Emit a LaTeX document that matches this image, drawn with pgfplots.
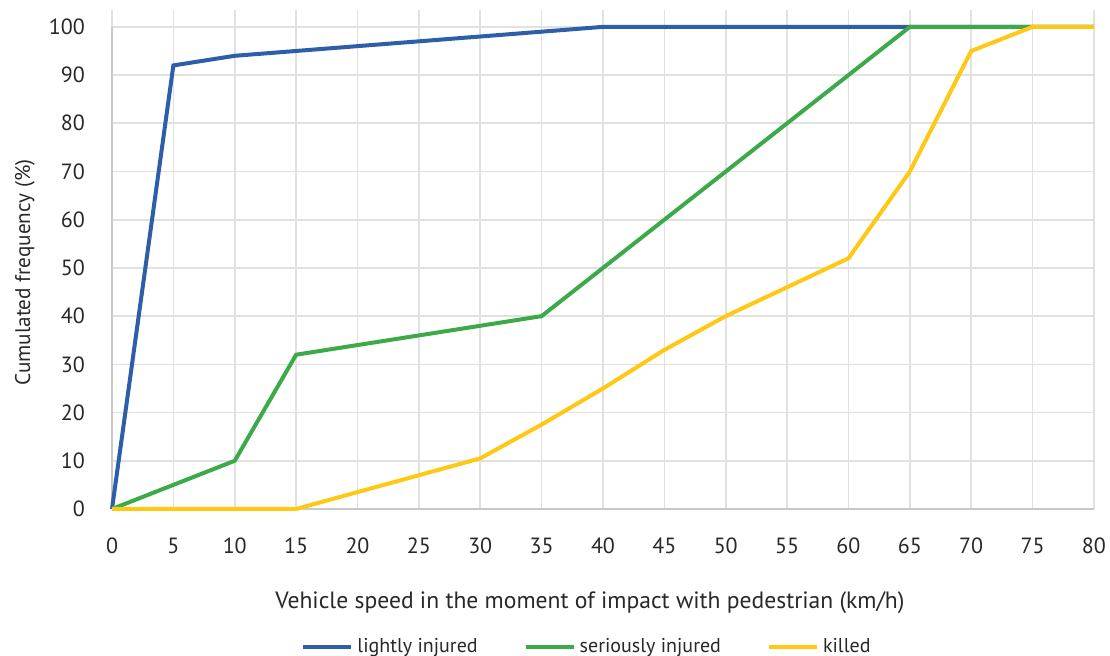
\documentclass[border=0pt]{standalone}
\usepackage{pgfplots}
\pgfplotsset{compat=1.18}
\usepackage{fontspec}
\setmainfont{PT Sans}
\definecolor{cblue}{RGB}{46,94,168}
\definecolor{cgreen}{RGB}{60,170,72}
\definecolor{cyellow}{RGB}{255,200,20}
\definecolor{gridc}{RGB}{225,225,225}
\definecolor{axc}{RGB}{200,200,200}
\definecolor{txt}{RGB}{40,40,40}
\begin{document}
\begin{tikzpicture}
\useasboundingbox (-56pt,-73.5pt) rectangle (499pt,254.5pt);
\begin{axis}[
  at={(0,0)}, anchor=south west,
  scale only axis, width=491pt, height=249.5pt,
  xmin=0, xmax=80, ymin=0, ymax=103.5,
  xtick={0,5,...,80}, ytick={0,10,...,100},
  axis x line=bottom, axis y line=left,
  axis line style={axc, line width=1.2pt, -},
  y axis line style={draw=none},
  major tick length=0pt,
  grid=major, major grid style={gridc, line width=0.8pt},
  /pgf/number format/assume math mode=true,
  tick label style={font=\fontsize{11}{13}\selectfont, text=txt},
  xticklabel style={yshift=-11pt},
  yticklabel style={xshift=-10pt},
  xlabel={Vehicle speed in the moment of impact with pedestrian (km/h)},
  ylabel={Cumulated frequency (\%)},
  xlabel style={font=\fontsize{11.8}{13}\selectfont, text=txt, at={(axis description cs:0.5,0)}, anchor=center, yshift=-47pt, xshift=-6.5pt},
  ylabel style={font=\fontsize{10.6}{13}\selectfont, text=txt, at={(axis description cs:-0.0886,0.474)}, anchor=center},
  legend style={at={(axis description cs:0.5,0)}, anchor=center, yshift=-69pt, xshift=-7.5pt,
    draw=none, fill=none, legend columns=3, font=\fontsize{10}{12}\selectfont, text=txt,
    /tikz/every even column/.append style={column sep=21pt}},
  legend image code/.code={\draw[#1, line width=2pt] (0pt,0pt) -- (24pt,0pt);},
  clip=false,
]
\draw[axc, line width=1.2pt] (axis cs:0,0) -- (axis cs:0,100);
\addplot[cblue, line width=2pt] coordinates {
(0,0) (5,92) (10,94) (15,95) (20,96) (25,97) (30,98) (35,99) (40,100) (45,100) (50,100) (55,100) (60,100) (65,100) (70,100) (75,100) (80,100)};
\addlegendentry{lightly injured}
\addplot[cgreen, line width=2pt] coordinates {
(0,0) (5,5) (10,10) (15,32) (20,34) (25,36) (30,38) (35,40) (40,50) (45,60) (50,70) (55,80) (60,90) (65,100) (70,100) (75,100) (80,100)};
\addlegendentry{seriously injured}
\addplot[cyellow, line width=2pt] coordinates {
(0,0) (5,0) (10,0) (15,0) (20,3.5) (25,7) (30,10.5) (35,17.5) (40,25) (45,33) (50,40) (55,46) (60,52) (65,70) (70,95) (75,100) (80,100)};
\addlegendentry{killed}
\end{axis}
\end{tikzpicture}
\end{document}
